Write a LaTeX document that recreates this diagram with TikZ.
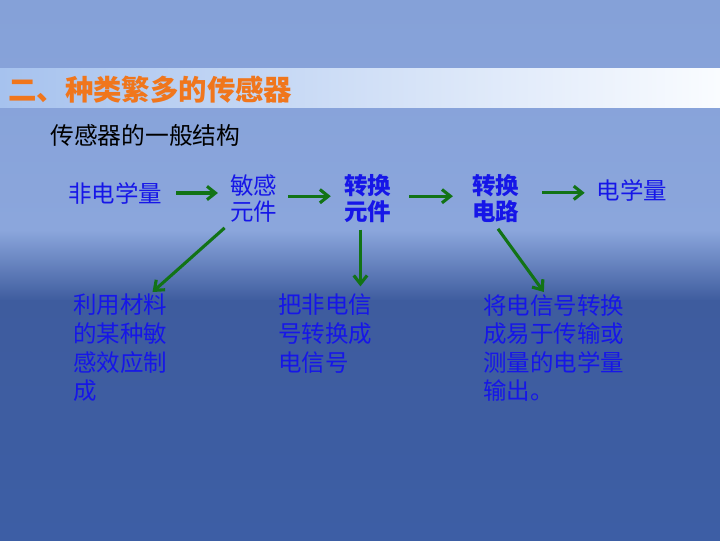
\documentclass[tikz,border=0pt]{standalone}
\usepackage{fontspec}
\newfontfamily\cjk{Noto Sans CJK SC}
\usepackage{tikz}
\usetikzlibrary{
  arrows.meta,   % Straight Barb 箭头
  calc,          % 坐标计算
  positioning    % 节点相对定位
}
\definecolor{bgtop}{RGB}{133,161,216}
\definecolor{bgmid}{RGB}{139,166,220}
\definecolor{bgdark}{RGB}{62,92,158}
\definecolor{bgbottom}{RGB}{61,94,165}
\definecolor{bannerleft}{RGB}{166,194,238}
\definecolor{bannerright}{RGB}{250,252,255}
\definecolor{titleorange}{RGB}{240,118,28}
\definecolor{textblue}{RGB}{22,22,232}
\definecolor{arrowgreen}{RGB}{18,115,22}

\begin{document}
\begin{tikzpicture}[x=0.025cm, y=-0.025cm,
    word/.style={text=textblue, inner sep=1.4pt, align=left,
      font=\cjk\fontsize{16.7pt}{18.5pt}\selectfont},
    keyword/.style={word, font=\cjk\bfseries\fontsize{16.7pt}{18.5pt}\selectfont},
    note/.style={word, anchor=north west,
      font=\cjk\fontsize{16.7pt}{20.3pt}\selectfont},
    flow/.style={arrowgreen, line width=2.2pt,
      -{Straight Barb[length=6pt,width=9.5pt]}}]
    % --- 背景 ---
    \useasboundingbox (0,0) rectangle (720,540);
    \shade[top color=bgtop, bottom color=bgmid] (0,0) rectangle (720,231);
    \shade[top color=bgmid, bottom color=bgdark] (0,230) rectangle (720,301);
    \shade[top color=bgdark, bottom color=bgbottom] (0,300) rectangle (720,540);
    % 标题条
    \shade[left color=bannerleft, right color=bannerright] (0,68) rectangle (720,107);

    % --- 标题 ---
    \node[anchor=west, inner sep=0, text=titleorange,
      font=\cjk\bfseries\fontsize{20.2pt}{24pt}\selectfont] (title) at (8,90) {二、种类繁多的传感器};
    \node[anchor=west, inner sep=0, text=black,
      font=\cjk\fontsize{16.9pt}{20pt}\selectfont] (heading) at (50,135) {传感器的一般结构};

    % --- 结构框图 ---
    \node[word] (nonelec) at (115,193) {非电学量};
    \node[word] (sense) at (253.5,199) {敏感\\元件};
    \node[keyword] (convert) at (367.5,199) {转换\\元件};
    \node[keyword] (circuit) at (495.5,199) {转换\\电路};
    \node[word] (elec) at (632,190) {电学量};

    % --- 说明文字 ---
    \node[note] (note1) at (71,292) {利用材料\\的某种敏\\感效应制\\成};
    \node[note] (note2) at (276,292) {把非电信\\号转换成\\电信号};
    \node[note] (note3) at (481,292) {将电信号转换\\成易于传输或\\测量的电学量\\输出。};

    % --- 箭头 ---
    \draw[flow, shorten <=8.5pt, shorten >=7pt] (nonelec.east) -- (nonelec.east -| sense.west);
    \draw[flow, shorten <=6.4pt, shorten >=7.8pt] ([yshift=2pt]sense.east) -- ([yshift=2pt]convert.west);
    \draw[flow, shorten <=11.4pt, shorten >=12pt] ([yshift=2pt]convert.east) -- ([yshift=2pt]circuit.west);
    \draw[flow, shorten <=15pt, shorten >=7pt] ([yshift=-2pt]elec.west -| circuit.east) -- ([yshift=-2pt]elec.west);
    \draw[flow, shorten <=3pt] (sense.south west) -- (note1.60);
    \draw[flow, shorten <=3pt, shorten >=4pt] (convert.255) -- (convert.255 |- note2.north);
    \draw[flow, shorten <=3pt] (circuit.south) -- (note3.100);
\end{tikzpicture}
\end{document}
